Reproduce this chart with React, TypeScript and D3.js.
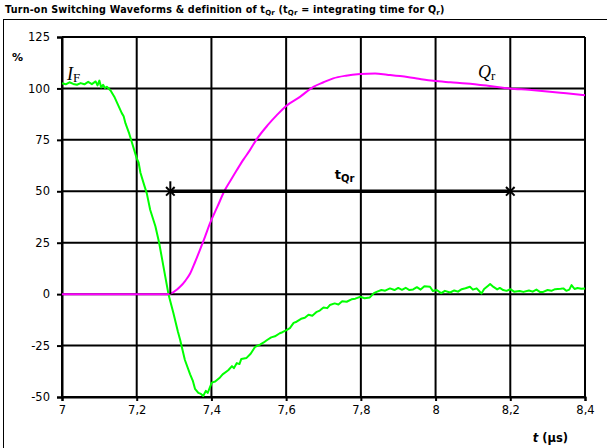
import { useEffect, useRef } from "react";
import * as d3 from "d3";

// x ticks (µs) and y ticks (%)
const xTicks = [7, 7.2, 7.4, 7.6, 7.8, 8, 8.2, 8.4];
const yTicks = [-50, -25, 0, 25, 50, 75, 100, 125];

// I_F waveform (green), [t, %]
const ifWave: [number, number][] = [
  [7.0, 102.5], [7.01, 102], [7.02, 103], [7.03, 102.2], [7.04, 101.8], [7.05, 102.6],
  [7.06, 102], [7.07, 103.2], [7.08, 102.1], [7.09, 103.4], [7.095, 101.5], [7.1, 103.8],
  [7.105, 100.5], [7.11, 101.8], [7.115, 100.2], [7.12, 100.8], [7.13, 99], [7.14, 96],
  [7.15, 92], [7.16, 88], [7.165, 86.5], [7.17, 83], [7.18, 78], [7.19, 72], [7.2, 66],
  [7.205, 64], [7.21, 59], [7.22, 53], [7.227, 49], [7.236, 41], [7.25, 33], [7.26, 25],
  [7.267, 18], [7.275, 10], [7.285, 0], [7.298, -9], [7.31, -18], [7.316, -22],
  [7.329, -32], [7.343, -39], [7.35, -42], [7.356, -46], [7.365, -48], [7.372, -48.5],
  [7.378, -49.5], [7.385, -47], [7.39, -48], [7.401, -43], [7.41, -42.5], [7.423, -40.5],
  [7.43, -39], [7.445, -37], [7.455, -35], [7.46, -36], [7.468, -33.5], [7.475, -34],
  [7.48, -31.5], [7.494, -31], [7.505, -29], [7.517, -25.6], [7.53, -24.5], [7.54, -23.5],
  [7.548, -22.4], [7.56, -21], [7.57, -20.5], [7.583, -19], [7.59, -18.5], [7.601, -17.5],
  [7.61, -16.5], [7.62, -14], [7.628, -13.4], [7.64, -12], [7.65, -11.5], [7.66, -10],
  [7.67, -10.5], [7.682, -8.6], [7.69, -8], [7.7, -6.5], [7.71, -6.8], [7.717, -5.3],
  [7.73, -4.5], [7.74, -5], [7.75, -3.5], [7.762, -3.7], [7.775, -2.5], [7.785, -2.2],
  [7.798, -1.3], [7.81, -2], [7.824, -1.6], [7.835, 0.5], [7.842, 1.1], [7.855, 2],
  [7.865, 1.7], [7.878, 2.8], [7.89, 2], [7.9, 3], [7.91, 2.1], [7.92, 3.1], [7.93, 2],
  [7.94, 2.3], [7.95, 3.4], [7.96, 2.2], [7.97, 3.8], [7.985, 3.6], [7.993, 1.5],
  [8.003, 2], [8.015, 0.5], [8.025, 1.6], [8.039, 0.8], [8.05, 1.8], [8.06, 1.2],
  [8.07, 2.4], [8.08, 2.9], [8.092, 3.6], [8.1, 2.2], [8.11, 2.8], [8.123, 0.3],
  [8.13, 2.5], [8.14, 4], [8.146, 4.9], [8.155, 3.5], [8.165, 2.3], [8.172, 3],
  [8.181, 2], [8.19, 1.6], [8.2, 2.4], [8.21, 1.2], [8.225, 1.5], [8.235, 1.1],
  [8.25, 1.8], [8.26, 1.2], [8.27, 2.2], [8.28, 1], [8.288, 1.1], [8.3, 2], [8.31, 1.6],
  [8.32, 2.4], [8.335, 2.6], [8.342, 2.8], [8.35, 1.6], [8.358, 2.2], [8.364, 4.4],
  [8.372, 2.5], [8.38, 3], [8.39, 2.6], [8.4, 2.8],
];

// Q_r integral (magenta), [t, %]
const qrWave: [number, number][] = [
  [7.0, 0], [7.285, 0], [7.3, 1.2], [7.316, 3.6], [7.33, 6.5], [7.343, 10], [7.356, 15.5],
  [7.369, 21.4], [7.383, 28], [7.396, 34.4], [7.416, 42.5], [7.436, 50.6], [7.452, 55.5],
  [7.468, 60.3], [7.486, 65.5], [7.503, 70], [7.52, 75], [7.55, 82], [7.575, 87],
  [7.6, 91.5], [7.637, 95.9], [7.673, 100.8], [7.7, 103], [7.726, 104.9], [7.76, 106.2],
  [7.798, 107], [7.838, 107.3], [7.87, 106.7], [7.905, 106], [7.95, 104.8], [7.994, 103.7],
  [8.04, 103], [8.083, 102.4], [8.14, 101.3], [8.199, 100], [8.25, 99.3], [8.306, 98.4],
  [8.35, 97.6], [8.4, 96.7],
];

// t_Qr markers
const tQrStart = 7.29;
const tQrEnd = 8.2;
const tQrLevel = 50;

const W = 607;
const H = 448;
const margin = { left: 62, right: 22, top: 37, bottom: 51 };

export default function App() {
  const ref = useRef<SVGSVGElement>(null);

  useEffect(() => {
    const svg = d3.select(ref.current);
    svg.selectAll("*").remove();

    const x = d3.scaleLinear().domain([7, 8.4]).range([margin.left, W - margin.right]);
    const y = d3.scaleLinear().domain([-50, 125]).range([H - margin.bottom, margin.top]);
    const font = "'DejaVu Sans', Verdana, sans-serif";

    svg.append("rect").attr("width", W).attr("height", H).attr("fill", "white");

    // frame round the chart
    svg.append("rect")
      .attr("x", 3.5).attr("y", 19.5)
      .attr("width", W + 10).attr("height", H + 10)
      .attr("fill", "none").attr("stroke", "black").attr("stroke-width", 1);

    svg.append("text")
      .attr("x", 5).attr("y", 13)
      .attr("font-family", font).attr("font-size", 9.6).attr("font-weight", "bold")
      .attr("letter-spacing", 0.2)
      .call((t) => {
        t.append("tspan").text("Turn-on Switching Waveforms & definition of t");
        t.append("tspan").attr("font-size", 7).attr("dy", 2).text("Qr");
        t.append("tspan").attr("dy", -2).text(" (t");
        t.append("tspan").attr("font-size", 7).attr("dy", 2).text("Qr");
        t.append("tspan").attr("dy", -2).text(" = integrating time for Q");
        t.append("tspan").attr("font-size", 7).attr("dy", 2).text("r");
        t.append("tspan").attr("dy", -2).text(")");
      });

    // grid
    const grid = svg.append("g").attr("stroke", "black").attr("stroke-width", 2);
    grid.selectAll("line.v")
      .data(xTicks)
      .join("line")
      .attr("class", "v")
      .attr("x1", (d) => x(d)).attr("x2", (d) => x(d))
      .attr("y1", y(125)).attr("y2", y(-50));
    grid.selectAll("line.h")
      .data(yTicks)
      .join("line")
      .attr("class", "h")
      .attr("x1", x(7)).attr("x2", x(8.4))
      .attr("y1", (d) => y(d)).attr("y2", (d) => y(d));

    // axes
    const yAxis = svg.append("g")
      .attr("transform", `translate(${margin.left},0)`)
      .call(d3.axisLeft(y).tickValues(yTicks).tickSize(5).tickPadding(7).tickFormat((d) => String(d)));
    const xAxis = svg.append("g")
      .attr("transform", `translate(0,${y(-50)})`)
      .call(
        d3.axisBottom(x).tickValues(xTicks).tickSize(4).tickPadding(5)
          .tickFormat((d) => String(d).replace(".", ","))
      );
    [yAxis, xAxis].forEach((a) => {
      a.select(".domain").attr("stroke-width", 2);
      a.selectAll(".tick line").attr("stroke-width", 2);
      a.selectAll("text").attr("font-family", font).attr("font-size", 11.5).attr("fill", "black");
    });

    const line = d3.line<[number, number]>().x((d) => x(d[0])).y((d) => y(d[1]));

    svg.append("path")
      .datum(ifWave)
      .attr("d", line)
      .attr("fill", "none").attr("stroke", "#00ff00").attr("stroke-width", 2)
      .attr("stroke-linejoin", "round");

    svg.append("path")
      .datum(qrWave)
      .attr("d", line.curve(d3.curveMonotoneX))
      .attr("fill", "none").attr("stroke", "#ff00ff").attr("stroke-width", 2);

    // t_Qr annotation
    svg.append("line")
      .attr("x1", x(tQrStart)).attr("x2", x(tQrStart))
      .attr("y1", y(0)).attr("y2", y(tQrLevel) - 10)
      .attr("stroke", "black").attr("stroke-width", 2);
    svg.append("line")
      .attr("x1", x(tQrStart)).attr("x2", x(tQrEnd))
      .attr("y1", y(tQrLevel)).attr("y2", y(tQrLevel))
      .attr("stroke", "black").attr("stroke-width", 3.5);
    svg.selectAll("path.mark")
      .data([tQrStart, tQrEnd])
      .join("path")
      .attr("class", "mark")
      .attr("d", d3.symbol(d3.symbolX, 50))
      .attr("transform", (d) => `translate(${x(d)},${y(tQrLevel)})`)
      .attr("fill", "none").attr("stroke", "black").attr("stroke-width", 2);

    svg.append("text")
      .attr("x", x(7.73)).attr("y", y(tQrLevel) - 12)
      .attr("font-family", font).attr("font-size", 13).attr("font-weight", "bold")
      .call((t) => {
        t.append("tspan").text("t");
        t.append("tspan").attr("font-size", 10).attr("dy", 3).text("Qr");
      });

    // curve labels
    const serif = "'Liberation Serif', 'DejaVu Serif', serif";
    svg.append("text")
      .attr("x", 67).attr("y", 80)
      .attr("font-family", serif).attr("font-size", 18)
      .call((t) => {
        t.append("tspan").attr("font-style", "italic").text("I");
        t.append("tspan").attr("font-size", 13).attr("dy", 2).text("F");
      });
    svg.append("text")
      .attr("x", 478).attr("y", 78)
      .attr("font-family", serif).attr("font-size", 18)
      .call((t) => {
        t.append("tspan").attr("font-style", "italic").text("Q");
        t.append("tspan").attr("font-size", 13).attr("dy", 2).text("r");
      });

    // axis titles
    svg.append("text")
      .attr("x", 12).attr("y", 61)
      .attr("font-family", font).attr("font-size", 11).attr("font-weight", "bold")
      .text("%");
    svg.append("text")
      .attr("x", 568).attr("y", 442)
      .attr("text-anchor", "end")
      .attr("font-family", font).attr("font-size", 11.5).attr("font-weight", "bold")
      .call((t) => {
        t.append("tspan").attr("font-style", "italic").text("t");
        t.append("tspan").text(" (µs)");
      });
  }, []);

  return (
    <svg
      ref={ref}
      width={W}
      height={H}
      style={{ position: "absolute", left: 0, top: 0 }}
    />
  );
}
